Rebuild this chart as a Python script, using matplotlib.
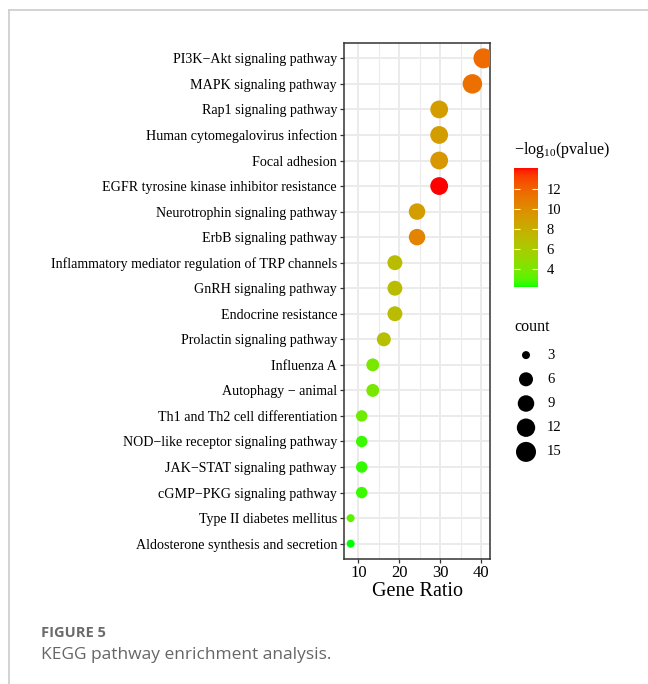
import numpy as np
import matplotlib
matplotlib.use('Agg')
import matplotlib.pyplot as plt
from matplotlib.colors import ListedColormap, Normalize
from matplotlib.lines import Line2D

plt.rcParams['font.family'] = ['Liberation Serif', 'DejaVu Serif']
plt.rcParams['mathtext.default'] = 'regular'

# KEGG terms, top to bottom
pathways = [
    "PI3K\u2212Akt signaling pathway",
    "MAPK signaling pathway",
    "Rap1 signaling pathway",
    "Human cytomegalovirus infection",
    "Focal adhesion",
    "EGFR tyrosine kinase inhibitor resistance",
    "Neurotrophin signaling pathway",
    "ErbB signaling pathway",
    "Inflammatory mediator regulation of TRP channels",
    "GnRH signaling pathway",
    "Endocrine resistance",
    "Prolactin signaling pathway",
    "Influenza A",
    "Autophagy \u2212 animal",
    "Th1 and Th2 cell differentiation",
    "NOD\u2212like receptor signaling pathway",
    "JAK\u2212STAT signaling pathway",
    "cGMP\u2212PKG signaling pathway",
    "Type II diabetes mellitus",
    "Aldosterone synthesis and secretion",
]
counts = [15, 14, 11, 11, 11, 11, 9, 9, 7, 7, 7, 6, 5, 5, 4, 4, 4, 4, 3, 3]
gene_ratio = [40.5, 37.8, 29.7, 29.7, 29.7, 29.7, 24.3, 24.3, 18.9, 18.9,
              18.9, 16.2, 13.5, 13.5, 10.8, 10.8, 10.8, 10.8, 8.1, 8.1]
neg_log_p = [11.6, 11.4, 9.0, 9.0, 9.4, 14.05, 9.0, 10.4, 7.0, 7.0,
             7.0, 6.8, 4.0, 4.0, 3.6, 2.6, 2.5, 2.6, 3.2, 2.2]
legend_counts = [3, 6, 9, 12, 15]
cbar_ticks = [4, 6, 8, 10, 12]


# green -> red gradient interpolated in Lab, like ggplot
def srgb_to_lab(c):
    c = np.asarray(c, float)
    lin = np.where(c <= 0.04045, c / 12.92, ((c + 0.055) / 1.055) ** 2.4)
    m = np.array([[0.4124, 0.3576, 0.1805],
                  [0.2126, 0.7152, 0.0722],
                  [0.0193, 0.1192, 0.9505]])
    xyz = m @ lin / np.array([0.95047, 1.0, 1.08883])
    f = np.where(xyz > 0.008856, np.cbrt(xyz), 7.787 * xyz + 16 / 116)
    return np.array([116 * f[1] - 16, 500 * (f[0] - f[1]), 200 * (f[1] - f[2])])


def lab_to_srgb(lab):
    L, a, b = lab
    fy = (L + 16) / 116
    fx = fy + a / 500
    fz = fy - b / 200
    f = np.array([fx, fy, fz])
    xyz = np.where(f ** 3 > 0.008856, f ** 3, (f - 16 / 116) / 7.787)
    xyz = xyz * np.array([0.95047, 1.0, 1.08883])
    minv = np.array([[3.2406, -1.5372, -0.4986],
                     [-0.9689, 1.8758, 0.0415],
                     [0.0557, -0.2040, 1.0570]])
    lin = minv @ xyz
    c = np.where(lin <= 0.0031308, 12.92 * lin, 1.055 * np.clip(lin, 0, None) ** (1 / 2.4) - 0.055)
    return np.clip(c, 0, 1)


lo = srgb_to_lab([0, 1, 0])
hi = srgb_to_lab([1, 0, 0])
cmap = ListedColormap([lab_to_srgb(lo + (hi - lo) * t) for t in np.linspace(0, 1, 256)])
norm = Normalize(min(neg_log_p), max(neg_log_p))


def dot_size(c):
    d_px = 8 + 12 * np.sqrt((np.asarray(c, float) - 3) / 12)
    return (d_px * 0.72) ** 2


fig = plt.figure(figsize=(6.48, 6.84), dpi=100)
W, H = 648, 684


def fig_rect(x0, y0, x1, y1):
    return [x0 / W, 1 - y1 / H, (x1 - x0) / W, (y1 - y0) / H]


ax = fig.add_axes(fig_rect(344, 43, 490, 559))
ypos = np.arange(len(pathways))
ax.scatter(gene_ratio, ypos, s=dot_size(counts), c=neg_log_p, cmap=cmap, norm=norm,
           edgecolors='none', zorder=3)
ax.set_ylim(len(pathways) - 0.4, -0.6)
ax.set_xlim(6.48, 42.1)
ax.set_yticks(ypos)
ax.set_yticklabels(pathways, fontsize=10.1)
ax.set_xticks([10, 20, 30, 40])
ax.set_xticks([15, 25, 35], minor=True)
ax.tick_params(axis='both', which='major', length=3, width=0.9, color='#333333', pad=2)
ax.tick_params(axis='x', which='major', labelsize=12, pad=1)
ax.tick_params(axis='x', which='minor', length=0)
ax.grid(True, which='major', color='#ebebeb', linewidth=1.4, zorder=0)
ax.grid(True, which='minor', axis='x', color='#ebebeb', linewidth=0.8, zorder=0)
ax.set_axisbelow(True)
for sp in ax.spines.values():
    sp.set_color('#333333')
    sp.set_linewidth(1.1)
ax.set_xlabel("Gene Ratio", fontsize=14.5, labelpad=1)

# colour bar
cax = fig.add_axes(fig_rect(514, 168, 538, 287))
sm = plt.cm.ScalarMappable(norm=norm, cmap=cmap)
cb = fig.colorbar(sm, cax=cax, ticks=cbar_ticks)
cb.outline.set_visible(False)
cax.tick_params(left=True, right=True, labelleft=False, labelright=True,
                direction='in', length=4, width=0.8, color='white', labelsize=10.5, pad=6)
fig.text(514 / W, 1 - 150 / H, "\u2212log$_{10}$(pvalue)", fontsize=11.5, va='center', ha='left')

# size legend
lax = fig.add_axes(fig_rect(514, 343, 538, 464))
lax.scatter([0.5] * len(legend_counts), range(len(legend_counts)), s=dot_size(legend_counts),
            color='black', edgecolors='none', clip_on=False)
lax.set_xlim(0, 1)
lax.set_ylim(len(legend_counts) - 0.5, -0.5)
for i, c in enumerate(legend_counts):
    lax.text(1.38, i, str(c), fontsize=10.5, va='center', ha='left')
lax.axis('off')
fig.text(514 / W, 1 - 327 / H, "count", fontsize=11.5, va='center', ha='left')

# page frame and caption
fig.add_artist(Line2D([9 / W, 1], [1 - 10 / H] * 2, color='#cccccc', linewidth=1.2))
fig.add_artist(Line2D([9 / W] * 2, [0, 1 - 10 / H], color='#cccccc', linewidth=1.2))
fig.text(41 / W, 1 - 633 / H, "FIGURE 5", fontsize=10.5, fontweight='bold', color='#6b6b6b',
         family='Open Sans', va='center', ha='left')
fig.text(41 / W, 1 - 655 / H, "KEGG pathway enrichment analysis.", fontsize=12.5,
         color='#666666', family='Open Sans', va='center', ha='left')

fig.savefig("out.png", dpi=100)
